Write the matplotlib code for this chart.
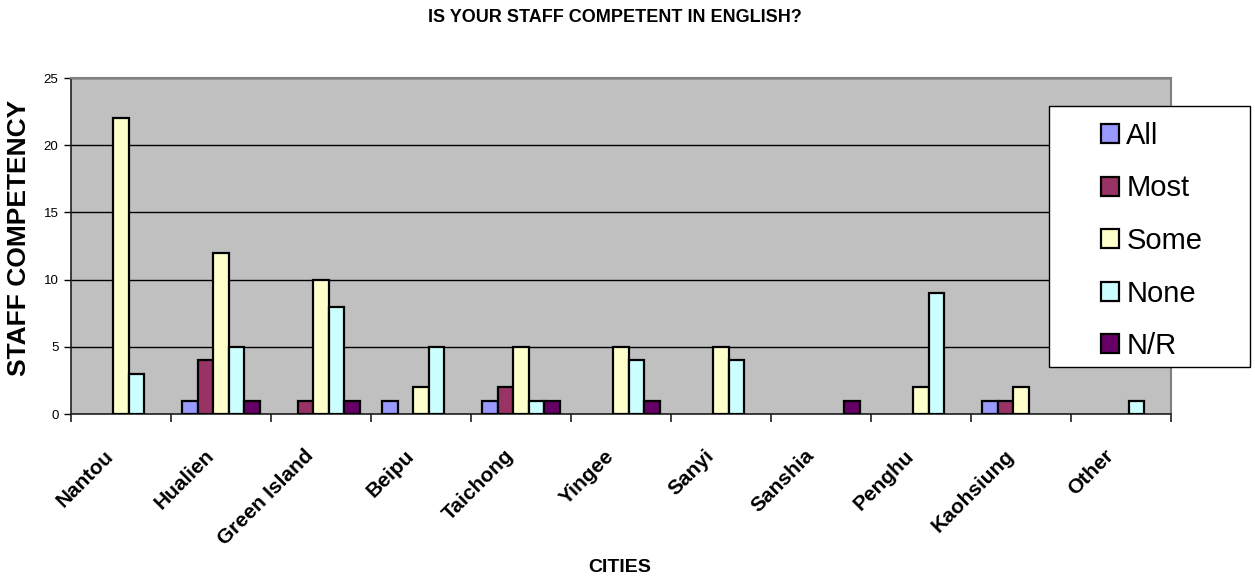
import numpy as np
import matplotlib
matplotlib.use("Agg")
from matplotlib import pyplot as plt
from matplotlib import transforms
from matplotlib.patches import Rectangle

plt.rcParams['font.family'] = ['Liberation Sans', 'DejaVu Sans']

cities = ["Nantou", "Hualien", "Green Island", "Beipu", "Taichong", "Yingee",
          "Sanyi", "Sanshia", "Penghu", "Kaohsiung", "Other"]

allStaff = [0, 1, 0, 1, 1, 0, 0, 0, 0, 1, 0]
mostStaff = [0, 4, 1, 0, 2, 0, 0, 0, 0, 1, 0]
someStaff = [22, 12, 10, 2, 5, 5, 5, 0, 2, 2, 0]
noneStaff = [3, 5, 8, 5, 1, 4, 4, 0, 9, 0, 1]
noReply = [0, 1, 1, 0, 1, 1, 0, 1, 0, 0, 0]

seriesNames = ["All", "Most", "Some", "None", "N/R"]
seriesValues = [allStaff, mostStaff, someStaff, noneStaff, noReply]
seriesColors = ["#9999FF", "#993366", "#FFFFCC", "#CCFFFF", "#660066"]

fig = plt.figure(figsize=(12.55, 5.81), dpi=100)
ax = fig.add_axes([0.0566, 0.2874, 0.8765, 0.5783])
ax.set_facecolor("#C0C0C0")

x = np.arange(len(cities))
barWidth = 0.156
handles = []
for i in range(len(seriesNames)):
    # zero values are left out so empty slots stay blank
    vals = np.array(seriesValues[i], dtype=float)
    vals[vals == 0] = np.nan
    bars = ax.bar(x + (i - 2) * barWidth, vals, barWidth, color=seriesColors[i],
                  edgecolor="black", linewidth=1.6, zorder=3, label=seriesNames[i])
    handles.append(bars)

ax.set_xlim(-0.5, len(cities) - 0.5)
ax.set_ylim(0, 25)
ax.set_yticks([0, 5, 10, 15, 20, 25])
ax.yaxis.grid(True, color="black", linewidth=1.0, zorder=1)
ax.set_axisbelow(True)

ax.set_xticks(x)
ax.set_xticks(np.arange(-0.5, len(cities), 1.0), minor=True)
ax.tick_params(axis="x", which="major", length=0, pad=28)
ax.tick_params(axis="x", which="minor", length=6, width=1.2, color="#202020", direction="out")
ax.tick_params(axis="y", length=5, width=1.0, labelsize=9.5, pad=4, direction="out")
ax.set_xticklabels(cities, rotation=45, ha="right", va="center", rotation_mode="anchor",
                   fontsize=15, fontweight="bold")
shift = transforms.ScaledTranslation(-0.10, 0, fig.dpi_scale_trans)
for lbl in ax.get_xticklabels():
    lbl.set_transform(lbl.get_transform() + shift)

for side in ["top", "right"]:
    ax.spines[side].set_color("#808080")
    ax.spines[side].set_linewidth(1.5)
for side in ["left", "bottom"]:
    ax.spines[side].set_color("#202020")
    ax.spines[side].set_linewidth(1.2)

fig.text(615 / 1255, 1 - 17 / 581, "IS YOUR STAFF COMPETENT IN ENGLISH?",
         ha="center", va="center", fontsize=13, fontweight="bold")
fig.text(19 / 1255, 1 - 238 / 581, "STAFF COMPETENCY", rotation=90,
         ha="center", va="center", fontsize=19, fontweight="bold")
fig.text(620 / 1255, 1 - 568 / 581, "CITIES", ha="center", va="center",
         fontsize=14, fontweight="bold")

# legend box drawn separately so the wide side margins can be set
box = Rectangle((1049 / 1255, 1 - 367 / 581), 201 / 1255, 261 / 581,
                transform=fig.transFigure, facecolor="white", edgecolor="black",
                linewidth=1.0, zorder=4)
fig.patches.append(box)
fig.legend(handles, seriesNames, loc="upper left",
           bbox_to_anchor=(1101 / 1255, 1 - 122 / 581), bbox_transform=fig.transFigure,
           frameon=False, fontsize=21, borderpad=0, borderaxespad=0,
           handlelength=0.62, handleheight=0.62, handletextpad=0.25,
           labelspacing=0.84)

fig.savefig("out.png", dpi=100)
